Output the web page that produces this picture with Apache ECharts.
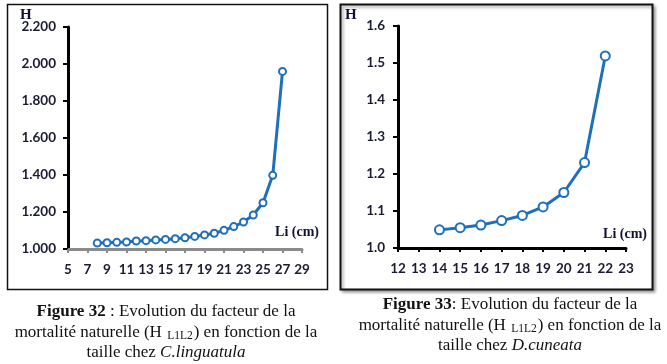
<!DOCTYPE html>
<html>
<head>
<meta charset="utf-8">
<script src="https://cdn.jsdelivr.net/npm/echarts@6/dist/echarts.min.js"></script>
<style>
html,body{margin:0;padding:0;background:#fff;}
#c{width:667px;height:364px;}
</style>
</head>
<body>
<div id="c"></div>
<script>
// Figure 32 : C.linguatula
var liLing = [8, 9, 10, 11, 12, 13, 14, 15, 16, 17, 18, 19, 20, 21, 22, 23, 24, 25, 26, 27];
var hLing = [1.032, 1.034, 1.036, 1.038, 1.043, 1.045, 1.049, 1.052, 1.056, 1.061, 1.068, 1.076, 1.085, 1.101, 1.121, 1.146, 1.184, 1.250, 1.398, 1.960];
// Figure 33 : D.cuneata
var liCun = [14, 15, 16, 17, 18, 19, 20, 21, 22];
var hCun = [1.049, 1.055, 1.062, 1.074, 1.088, 1.111, 1.150, 1.231, 1.519];

var xAxisLeft = {min: 5, max: 29, interval: 2};
var yAxisLeft = {min: 1.0, max: 2.2, interval: 0.2};
var xAxisRight = {min: 12, max: 23, interval: 1};
var yAxisRight = {min: 1.0, max: 1.6, interval: 0.1};

var caption32 = ['{b|Figure 32} : Evolution du facteur de la', 'mortalité naturelle (H {sub|L1L2}) en fonction de la', 'taille chez {i|C.linguatula}'];
var caption33 = ['{b|Figure 33}: Evolution du facteur de la', 'mortalité naturelle (H {sub|L1L2}) en fonction de la', 'taille chez {i|D.cuneata}'];

function pairs(xs, ys) { return xs.map(function (x, i) { return [x, ys[i]]; }); }

var blue = '#1f6fba';
var labelFont = {fontFamily: 'Lato', fontWeight: 'bold', fontSize: 13.5, color: '#1a1a33'};
var capRich = {
  b: {fontFamily: 'Liberation Serif', fontWeight: 'bold', fontSize: 17, fill: '#111'},
  i: {fontFamily: 'Liberation Serif', fontStyle: 'italic', fontSize: 17, fill: '#111'},
  sub: {fontFamily: 'Liberation Serif', fontSize: 11.5, fill: '#111', padding: [6, 1, 0, 1]}
};

function capLines(lines, cx, ys) {
  return lines.map(function (t, i) {
    return {
      type: 'text', z: 10,
      style: {
        text: t, x: cx, y: ys[i], textAlign: 'center', textVerticalAlign: 'middle',
        font: '17px "Liberation Serif"', fill: '#111', rich: capRich
      }
    };
  });
}

var chart = echarts.init(document.getElementById('c'), null, {renderer: 'canvas'});

function makeX(idx, ax, lineColor) {
  return {
    type: 'value', gridIndex: idx, min: ax.min, max: ax.max, interval: ax.interval,
    splitLine: {show: false},
    axisLine: {show: true, onZero: false, lineStyle: {color: lineColor, width: 3}},
    axisTick: {show: true, length: 4, lineStyle: {color: lineColor, width: 2}},
    axisLabel: Object.assign({margin: 14}, labelFont)
  };
}
function makeY(idx, ax, digits, margin) {
  return {
    type: 'value', gridIndex: idx, min: ax.min, max: ax.max, interval: ax.interval,
    splitLine: {show: false},
    axisLine: {show: true, lineStyle: {color: '#000', width: 3}},
    axisTick: {show: true, length: 5, lineStyle: {color: '#000', width: 2}},
    axisLabel: Object.assign({margin: margin, formatter: function (v) { return v.toFixed(digits); }}, labelFont)
  };
}

var option = {
  animation: false,
  backgroundColor: '#fff',
  grid: [
    {left: 68, top: 27, width: 234, height: 222},
    {left: 398, top: 26, width: 228, height: 222}
  ],
  xAxis: [makeX(0, xAxisLeft, '#8a8a8a'), makeX(1, xAxisRight, '#000')],
  yAxis: [makeY(0, yAxisLeft, 3, 12), makeY(1, yAxisRight, 1, 13)],
  series: [
    {
      type: 'line', xAxisIndex: 0, yAxisIndex: 0, data: pairs(liLing, hLing),
      symbol: 'circle', symbolSize: 7,
      lineStyle: {color: blue, width: 3},
      itemStyle: {color: '#fff', borderColor: blue, borderWidth: 2}
    },
    {
      type: 'line', xAxisIndex: 1, yAxisIndex: 1, data: pairs(liCun, hCun),
      symbol: 'circle', symbolSize: 9,
      lineStyle: {color: blue, width: 3},
      itemStyle: {color: '#fff', borderColor: blue, borderWidth: 2}
    }
  ],
  graphic: [
    {type: 'rect', z: -1, shape: {x: 7.5, y: 4.5, width: 320, height: 285},
      style: {fill: 'none', stroke: '#111', lineWidth: 1.5}},
    {type: 'rect', z: -1, shape: {x: 340.5, y: 4.5, width: 312, height: 285},
      style: {fill: '#fff', stroke: '#111', lineWidth: 2,
        shadowBlur: 3, shadowOffsetX: 2, shadowOffsetY: 2, shadowColor: 'rgba(0,0,0,0.35)'}},
    {type: 'text', style: {text: 'H', x: 20, y: 15, textVerticalAlign: 'middle',
      font: 'bold 15px "Liberation Serif"', fill: '#111133'}},
    {type: 'text', style: {text: 'H', x: 345, y: 15, textVerticalAlign: 'middle',
      font: 'bold 15px "Liberation Serif"', fill: '#111133'}},
    {type: 'text', style: {text: 'Li (cm)', x: 319, y: 232, textAlign: 'right', textVerticalAlign: 'middle',
      font: 'bold 14px "Liberation Serif"', fill: '#111133'}},
    {type: 'text', style: {text: 'Li (cm)', x: 647, y: 234, textAlign: 'right', textVerticalAlign: 'middle',
      font: 'bold 14px "Liberation Serif"', fill: '#111133'}}
  ].concat(capLines(caption32, 166, [312, 333, 353])).concat(capLines(caption33, 510, [305, 326, 346]))
};
chart.setOption(option);
</script>
</body>
</html>
